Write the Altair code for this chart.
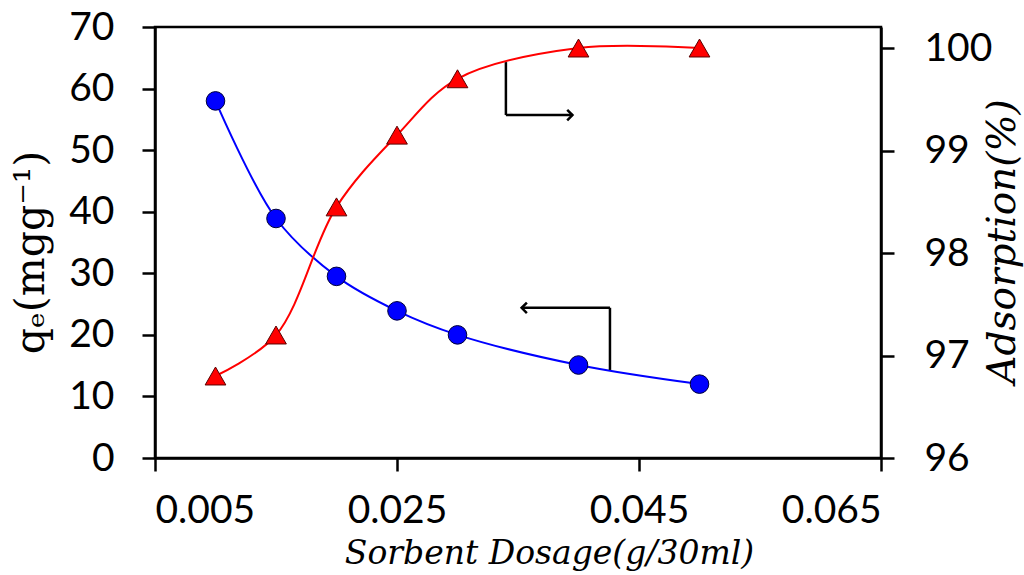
import altair as alt
import pandas as pd

# Sorbent dosage (g/30 ml)
dosage = [0.010, 0.015, 0.020, 0.025, 0.030, 0.040, 0.050]
# Adsorption capacity q_e (mg/g)
qe = [58.0, 38.9, 29.5, 23.9, 20.0, 15.1, 12.0]
# Removal efficiency (%)
adsorption = [96.80, 97.20, 98.45, 99.15, 99.70, 100.0, 100.0]

x_ticks = [0.005, 0.025, 0.045, 0.065]
left_ticks = [0, 10, 20, 30, 40, 50, 60, 70]
right_ticks = [96, 97, 98, 99, 100]

# Pointer arrows (dosage, q_e units): each is an elbow from its curve to the axis it refers to
arrow_right_x = [0.0340, 0.0340]
arrow_right_y = [64.3, 55.7]
arrow_right_tip = [0.0395, 55.7]
arrow_left_x = [0.0426, 0.0426]
arrow_left_y = [14.3, 24.4]
arrow_left_tip = [0.0353, 24.4]

df = pd.DataFrame({"dosage": dosage, "qe": qe, "ads": adsorption})

segments = pd.DataFrame({
    "dosage": [arrow_right_x[0], arrow_right_x[1], arrow_left_x[0], arrow_left_x[1]],
    "x2": [arrow_right_x[0], arrow_right_tip[0], arrow_left_x[0], arrow_left_tip[0]],
    "qe": [arrow_right_y[0], arrow_right_y[1], arrow_left_y[0], arrow_left_y[1]],
    "y2": [arrow_right_y[1], arrow_right_tip[1], arrow_left_y[1], arrow_left_tip[1]],
})
heads = pd.DataFrame({
    "dosage": [arrow_right_tip[0], arrow_left_tip[0]],
    "qe": [arrow_right_tip[1], arrow_left_tip[1]],
    "shape": ["M-1,-1L0,0L-1,1", "M1,-1L0,0L1,1"],
})

W, H = 726, 431
LABEL_FONT = "Lato"
TITLE_FONT = "DejaVu Serif"

x_scale = alt.Scale(domain=[0.005, 0.065], nice=False, zero=False)
left_scale = alt.Scale(domain=[0, 70], nice=False)
right_scale = alt.Scale(domain=[96, 100.205], nice=False, zero=False)

x_axis = alt.Axis(values=x_ticks, format=".3f", title="Sorbent Dosage(g/30ml)",
                  titleFont=TITLE_FONT, titleFontStyle="italic", titleFontWeight="normal",
                  titleFontSize=33, titleX=394, titleY=95, titleBaseline="middle",
                  labelPadding=20)
left_axis = alt.Axis(values=left_ticks, title="qₑ(mgg⁻¹)", titleFont=TITLE_FONT,
                     titleFontStyle="normal", titleFontWeight="normal", titleFontSize=41,
                     titleAngle=-90, titleX=-124, titleY=225, titleBaseline="middle",
                     labelPadding=28)
right_axis = alt.Axis(orient="right", values=right_ticks, title="Adsorption(%)",
                      titleFont=TITLE_FONT, titleFontStyle="italic",
                      titleFontWeight="normal", titleFontSize=39, titleAngle=-90,
                      titleX=121, titleY=214, titleBaseline="middle",
                      labelPadding=30)

x_enc = alt.X("dosage:Q", scale=x_scale, axis=x_axis)
y_left = alt.Y("qe:Q", scale=left_scale, axis=left_axis)
y_right = alt.Y("ads:Q", scale=right_scale, axis=right_axis)

blue_line = alt.Chart(df).mark_line(
    color="#0000ff", strokeWidth=2, interpolate="catmull-rom"
).encode(x=x_enc, y=y_left)
blue_pts = alt.Chart(df).mark_point(
    shape="circle", filled=True, fill="#0000ff", stroke="#00003a", strokeWidth=1,
    size=346, opacity=1
).encode(x=x_enc, y=y_left)

arrow_lines = alt.Chart(segments).mark_rule(color="black", strokeWidth=2.5).encode(
    x=x_enc, x2="x2:Q", y=y_left, y2="y2:Q",
)
arrow_heads = alt.Chart(heads).mark_point(
    filled=False, stroke="black", strokeWidth=2.5, size=110, opacity=1
).encode(
    x=x_enc, y=y_left,
    shape=alt.Shape("shape:N", scale=None, legend=None),
)

left = alt.layer(blue_line, blue_pts, arrow_lines, arrow_heads)

red_line = alt.Chart(df).mark_line(
    color="#ff0000", strokeWidth=2, interpolate="catmull-rom"
).encode(x=x_enc, y=y_right)
red_pts = alt.Chart(df).mark_point(
    shape="triangle-up", filled=True, fill="#ff0000", stroke="#5a0000", strokeWidth=1,
    size=430, opacity=1
).encode(x=x_enc, y=y_right)

right = alt.layer(red_line, red_pts)

chart = alt.layer(left, right).resolve_scale(y="independent").properties(
    width=W, height=H,
    autosize=alt.AutoSizeParams(type="none"),
    padding={"left": 155, "top": 27, "right": 143, "bottom": 117},
    background="white",
).configure_view(
    stroke="black", strokeWidth=2.5
).configure_axis(
    grid=False,
    domainColor="black", domainWidth=2.5,
    tickColor="black", tickWidth=2.5, tickSize=13,
    labelFont=LABEL_FONT, labelFontSize=39, labelColor="black",
    titleColor="black",
)

chart.save("out.html", embed_options={"renderer": "svg", "actions": False})
